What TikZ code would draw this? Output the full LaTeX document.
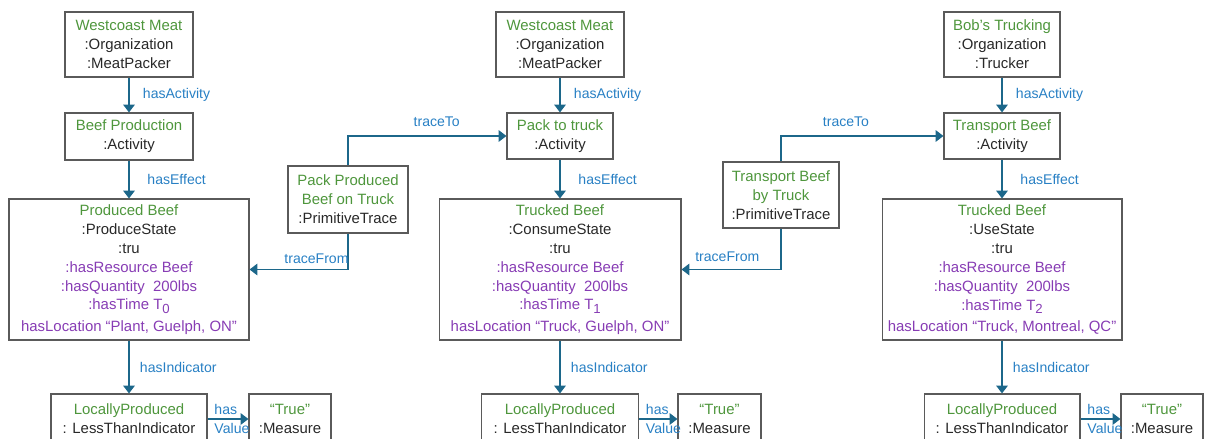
\documentclass[tikz,border=0pt]{standalone}
\usepackage{fontspec}
\setmainfont{Liberation Sans}
\usetikzlibrary{arrows.meta}
\definecolor{relteal}{RGB}{28,103,138}
\definecolor{lblblue}{RGB}{40,128,196}
\definecolor{namegreen}{RGB}{78,150,60}
\definecolor{attrpurple}{RGB}{135,60,180}
\definecolor{boxgray}{RGB}{90,90,90}
\definecolor{bodytext}{RGB}{40,40,40}
\newcommand\ename[1]{\textcolor{namegreen}{#1}}
\newcommand\eattr[1]{\textcolor{attrpurple}{#1}}
\newcommand\tsub[1]{\raisebox{-0.45ex}{\fontsize{7.5}{8}\selectfont #1}}

\begin{document}
\begin{tikzpicture}[x=0.02cm, y=-0.02cm,
	box/.style={draw=boxgray, line width=0.6pt, inner sep=0pt, align=center, text=bodytext,
		font=\fontsize{8.5}{10.8}\selectfont},
	rel/.style={draw=relteal, line width=1.1pt, -{Triangle[width=6.5pt,length=4.5pt]}},
	lbl/.style={text=lblblue, inner sep=0pt, font=\fontsize{8}{9.6}\selectfont}
	]
	\useasboundingbox (0,0) rectangle (1206,439);
	% left column
	\node[box, minimum width=2.56cm, minimum height=1.3cm] (org1) at (129,44.5)
		{\ename{Westcoast Meat}\\:Organization\\:MeatPacker};
	\node[box, minimum width=2.56cm, minimum height=0.94cm] (act1) at (129,136.5)
		{\ename{Beef Production}\\:Activity};
	\node[box, minimum width=4.8cm, minimum height=2.82cm] (st1) at (129,269.5)
		{\ename{Produced Beef}\\:ProduceState\\:tru\\\eattr{:hasResource Beef}\\
		\eattr{:hasQuantity\ \ 200lbs}\\\eattr{:hasTime T\tsub{0}}\\[1.5pt]\eattr{hasLocation “Plant, Guelph, ON”}};
	\node[box, minimum width=3.12cm, minimum height=1cm] (ind1) at (129,419)
		{\ename{LocallyProduced}\\: LessThanIndicator};
	\node[box, minimum width=1.64cm, minimum height=1cm] (ms1) at (290,419)
		{\ename{“True”}\\:Measure};
	\node[box, minimum width=2.4cm, minimum height=1.34cm] (pt1) at (348,199.5)
		{\ename{Pack Produced}\\\ename{Beef on Truck}\\:PrimitiveTrace};
	% middle column
	\node[box, minimum width=2.56cm, minimum height=1.3cm] (org2) at (560,44.5)
		{\ename{Westcoast Meat}\\:Organization\\:MeatPacker};
	\node[box, minimum width=2.12cm, minimum height=0.92cm] (act2) at (560,136)
		{\ename{Pack to truck}\\:Activity};
	\node[box, minimum width=4.84cm, minimum height=2.82cm] (st2) at (560,269.5)
		{\ename{Trucked Beef}\\:ConsumeState\\:tru\\\eattr{:hasResource Beef}\\
		\eattr{:hasQuantity\ \ 200lbs}\\\eattr{:hasTime T\tsub{1}}\\[1.5pt]\eattr{hasLocation “Truck, Guelph, ON”}};
	\node[box, minimum width=3.14cm, minimum height=1cm] (ind2) at (560,419)
		{\ename{LocallyProduced}\\: LessThanIndicator};
	\node[box, minimum width=1.66cm, minimum height=1cm] (ms2) at (719.5,419)
		{\ename{“True”}\\:Measure};
	\node[box, minimum width=2.32cm, minimum height=1.32cm] (pt2) at (781,195)
		{\ename{Transport Beef}\\\ename{by Truck}\\:PrimitiveTrace};
	% right column
	\node[box, minimum width=2.32cm, minimum height=1.3cm] (org3) at (1002,44.5)
		{\ename{Bob’s Trucking}\\:Organization\\:Trucker};
	\node[box, minimum width=2.32cm, minimum height=0.92cm] (act3) at (1002,136)
		{\ename{Transport Beef}\\:Activity};
	\node[box, minimum width=4.8cm, minimum height=2.82cm] (st3) at (1002,269.5)
		{\ename{Trucked Beef}\\:UseState\\:tru\\\eattr{:hasResource Beef}\\
		\eattr{:hasQuantity\ \ 200lbs}\\\eattr{:hasTime T\tsub{2}}\\[1.5pt]\eattr{hasLocation “Truck, Montreal, QC”}};
	\node[box, minimum width=3.12cm, minimum height=1cm] (ind3) at (1002,419)
		{\ename{LocallyProduced}\\: LessThanIndicator};
	\node[box, minimum width=1.64cm, minimum height=1cm] (ms3) at (1162,419)
		{\ename{“True”}\\:Measure};
	% relations
	\foreach \c in {1,2,3}{
		\draw[rel] (org\c) -- node[lbl, right=0.26cm]{hasActivity} (act\c);
		\draw[rel] (act\c) -- node[lbl, right=0.35cm]{hasEffect} (st\c);
		\draw[rel] (st\c) -- node[lbl, right=0.2cm]{hasIndicator} (ind\c);
		\draw[rel] (ind\c) -- node[lbl, anchor=south west, pos=0, xshift=0.12cm, yshift=0.06cm]{has}
			node[lbl, anchor=north west, pos=0, xshift=0.12cm, yshift=-0.06cm]{Value} (ms\c);
	}
	\draw[rel] (pt1.north) |- node[lbl, above=0.17cm, pos=0.78]{traceTo} (act2.west);
	\draw[rel] (pt1.south) |- node[lbl, above=0.1cm, pos=0.66]{traceFrom} (st1.east);
	\draw[rel] (pt2.north) |- node[lbl, above=0.17cm, pos=0.70]{traceTo} (act3.west);
	\draw[rel] (pt2.south) |- node[lbl, above=0.14cm, pos=0.77]{traceFrom} (st2.east);
\end{tikzpicture}
\end{document}
